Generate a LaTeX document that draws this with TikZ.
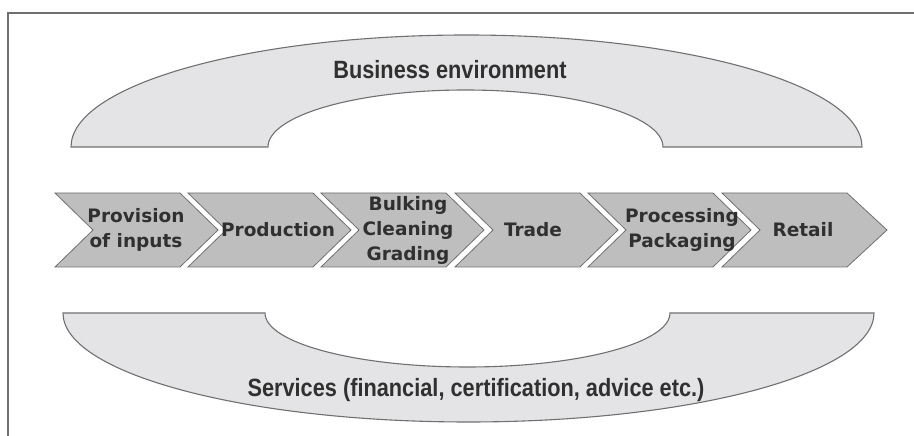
\documentclass[tikz,border=0pt]{standalone}
\usepackage{fontspec}
\setmainfont{Liberation Sans}
\newfontfamily\chevfont{DejaVu Sans}
\usepackage{xcolor}
\definecolor{archgray}{RGB}{228,228,230}
\definecolor{chevgray}{RGB}{190,190,190}
\definecolor{linegray}{RGB}{112,112,112}
\definecolor{textgray}{RGB}{48,48,48}

\begin{document}
\begin{tikzpicture}
        [x=1pt,y=1pt,
    arch/.style={draw=linegray, fill=archgray, line width=1.1pt},
    chev/.style={draw=linegray, fill=chevgray, line width=0.8pt, line join=miter},
    chevtext/.style={inner sep=0pt, align=center, text=textgray,
        font=\chevfont\bfseries\fontsize{18.5}{25}\selectfont},
    archtext/.style={text=textgray, inner sep=0pt, font=\bfseries\fontsize{25}{30}\selectfont}]
    \useasboundingbox (0,0) rectangle (914,436);
    \draw[linegray, line width=1.2pt] (914,423) -- (8,423) -- (8,0);
    \draw[arch] (71,289) arc[start angle=180, end angle=0, x radius=395.5, y radius=112]
        -- (663,289) arc[start angle=0, end angle=180, x radius=197.5, y radius=57] -- cycle;
    \draw[arch] (63,123) arc[start angle=180, end angle=360, x radius=405.5, y radius=109]
        -- (670,123) arc[start angle=0, end angle=-180, x radius=202.5, y radius=54] -- cycle;
    \node[archtext] (busenv) at (450,366) {\scalebox{0.87}[1]{Business environment}};
    \node[archtext] (services) at (476,46) {\scalebox{0.87}[1]{Services (financial, certification, advice etc.)}};
    \draw[chev] (55,243) -- ++(125,0) -- ++(38,-37) -- ++(-38,-37) -- ++(-125,0) -- ++(38,37) -- cycle;
    \draw[chev] (188,243) -- ++(125,0) -- ++(38,-37) -- ++(-38,-37) -- ++(-125,0) -- ++(38,37) -- cycle;
    \draw[chev] (321,243) -- ++(125,0) -- ++(38,-37) -- ++(-38,-37) -- ++(-125,0) -- ++(38,37) -- cycle;
    \draw[chev] (455,243) -- ++(125,0) -- ++(38,-37) -- ++(-38,-37) -- ++(-125,0) -- ++(38,37) -- cycle;
    \draw[chev] (588,243) -- ++(125,0) -- ++(38,-37) -- ++(-38,-37) -- ++(-125,0) -- ++(38,37) -- cycle;
    \draw[chev] (722,243) -- ++(125,0) -- ++(40,-37) -- ++(-40,-37) -- ++(-125,0) -- ++(38,37) -- cycle;
    \node[chevtext] (inputs) at (136,206) {Provision\\of inputs};
    \node[chevtext] (production) at (278,206) {Production};
    \node[chevtext] (bulking) at (408,206) {Bulking\\Cleaning\\Grading};
    \node[chevtext] (trade) at (533,206) {Trade};
    \node[chevtext] (processing) at (682,206) {Processing\\Packaging};
    \node[chevtext] (retail) at (803,206) {Retail};
    \end{tikzpicture}
\end{document}
